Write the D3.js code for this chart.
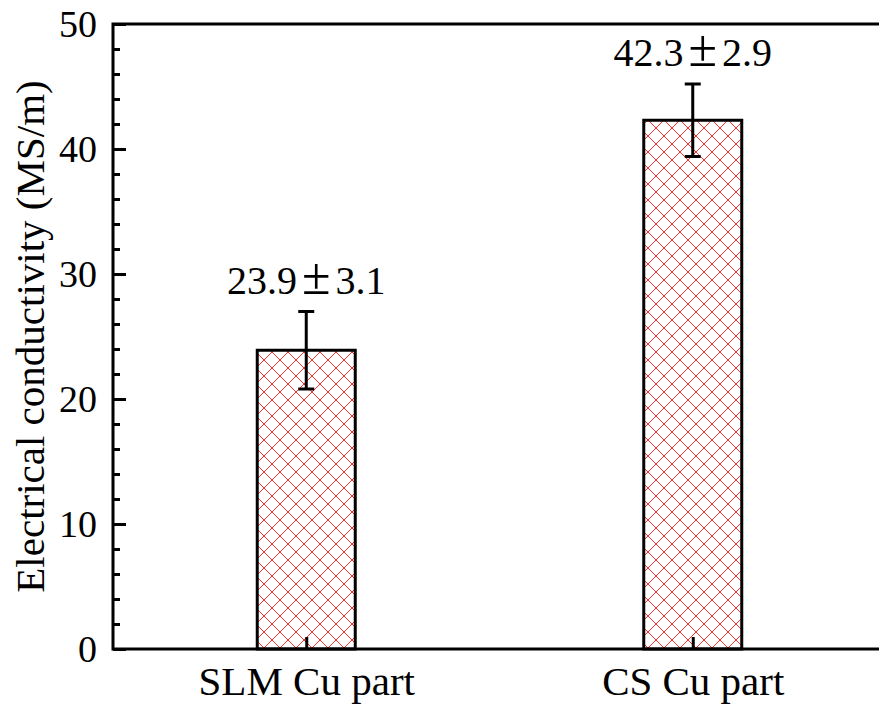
<!DOCTYPE html>
<html>
<head>
<meta charset="utf-8">
<script src="https://cdn.jsdelivr.net/npm/d3@7"></script>
<style>
body{margin:0;background:#fff;}
text{font-family:"Liberation Serif","Times New Roman",serif;}
</style>
</head>
<body>
<svg id="c" width="879" height="704"></svg>
<script>
const categories = ["SLM Cu part", "CS Cu part"];
const values = [23.9, 42.3];
const errors = [3.1, 2.9];
const meanLabels = ["23.9", "42.3"];
const errLabels = ["3.1", "2.9"];
const yTicks = [0, 10, 20, 30, 40, 50];

const svg = d3.select("#c");
const L = 113, R = 886, T = 24, B = 649;
const y = d3.scaleLinear().domain([0, 50]).range([B, T]);
const x = d3.scalePoint().domain(categories).range([L, R]).padding(0.5);
const barW = 98;

const defs = svg.append("defs");
const pat = defs.append("pattern").attr("id", "hatch")
  .attr("patternUnits", "userSpaceOnUse").attr("width", 16).attr("height", 16);
pat.append("path").attr("d", "M0,0L16,16M16,0L0,16M-1,15L1,17M15,-1L17,1M-1,1L1,-1M15,17L17,15")
  .attr("stroke", "#ff3030").attr("stroke-width", 1).attr("fill", "none");

// bars
svg.selectAll("rect.bar").data(values).enter().append("rect")
  .attr("x", (d, i) => x(categories[i]) - barW / 2)
  .attr("y", d => y(d))
  .attr("width", barW)
  .attr("height", d => y(0) - y(d))
  .attr("fill", "url(#hatch)")
  .attr("stroke", "#000").attr("stroke-width", 3);

// error bars
const eg = svg.append("g").attr("stroke", "#000").attr("stroke-width", 3);
values.forEach((v, i) => {
  const cx = x(categories[i]);
  eg.append("line").attr("x1", cx).attr("x2", cx).attr("y1", y(v + errors[i])).attr("y2", y(v - errors[i]));
  eg.append("line").attr("x1", cx - 8).attr("x2", cx + 8).attr("y1", y(v + errors[i])).attr("y2", y(v + errors[i]));
  eg.append("line").attr("x1", cx - 8).attr("x2", cx + 8).attr("y1", y(v - errors[i])).attr("y2", y(v - errors[i]));
});

// value labels
values.forEach((v, i) => {
  const t = svg.append("text")
    .attr("x", x(categories[i]))
    .attr("y", y(v + errors[i]) - 18)
    .attr("text-anchor", "middle").attr("font-size", 40);
  t.append("tspan").text(meanLabels[i]);
  t.append("tspan").attr("dx", 5).attr("font-size", 52).text("\u00B1");
  t.append("tspan").attr("dx", 5).text(errLabels[i]);
});

// frame
svg.append("rect").attr("x", L).attr("y", T).attr("width", R - L).attr("height", B - T)
  .attr("fill", "none").attr("stroke", "#000").attr("stroke-width", 3);

// y axis
const yAxis = d3.axisLeft(y).tickValues(yTicks).tickSize(-13).tickPadding(16).tickFormat(d3.format("d"));
const ya = svg.append("g").attr("transform", `translate(${L},0)`).call(yAxis);
ya.select(".domain").remove();
ya.selectAll(".tick line").attr("stroke-width", 3);
ya.selectAll(".tick text").attr("font-size", 38).attr("font-family", "Liberation Serif").attr("dy", "0.34em").attr("fill", "#000");
const minor = d3.range(0, 51, 2).filter(d => d % 10 !== 0);
const ym = d3.axisLeft(y).tickValues(minor).tickSize(-7).tickFormat("");
const yma = svg.append("g").attr("transform", `translate(${L},0)`).call(ym);
yma.select(".domain").remove();
yma.selectAll(".tick line").attr("stroke-width", 3);

// x axis
const xAxis = d3.axisBottom(x).tickSize(-12).tickPadding(17);
const xa = svg.append("g").attr("transform", `translate(0,${B})`).call(xAxis);
xa.select(".domain").remove();
xa.selectAll(".tick line").attr("stroke-width", 3);
xa.selectAll(".tick text").attr("font-size", 41).attr("font-family", "Liberation Serif").attr("fill", "#000");

// y title
svg.append("text").attr("transform", `translate(44,${(T + B) / 2}) rotate(-90)`)
  .attr("text-anchor", "middle").attr("font-size", 41)
  .text("Electrical conductivity (MS/m)");
</script>
</body>
</html>
